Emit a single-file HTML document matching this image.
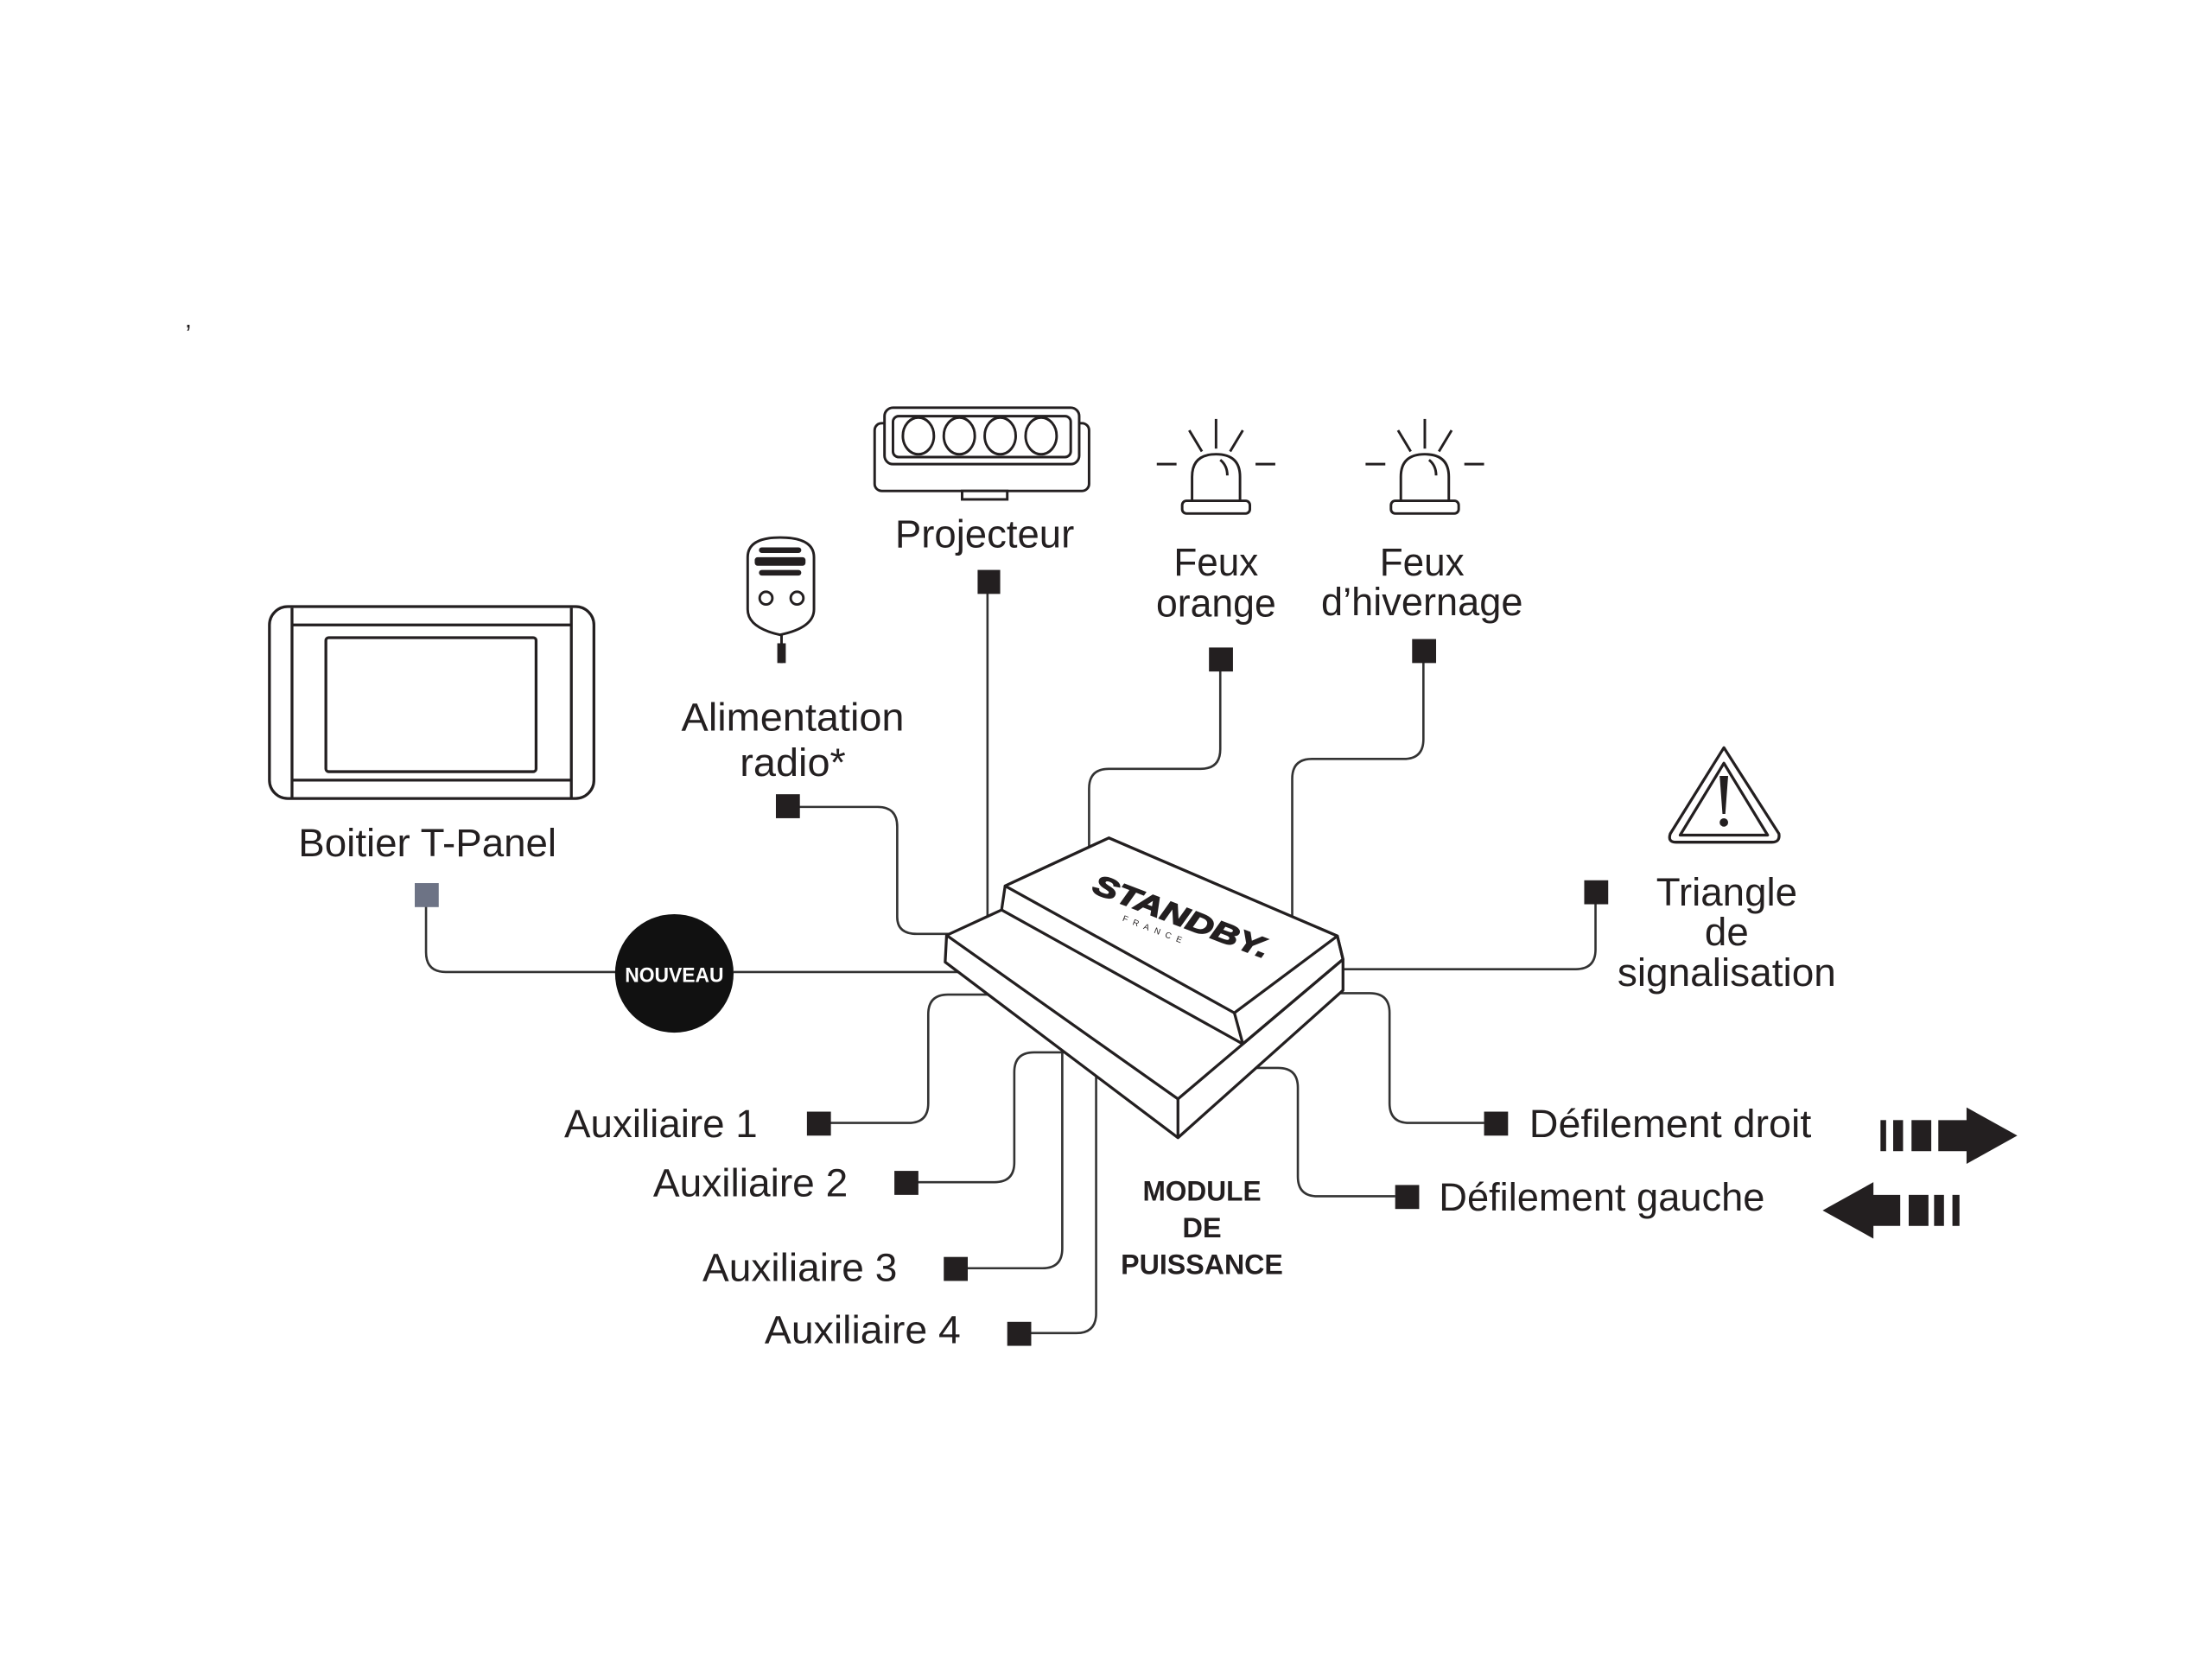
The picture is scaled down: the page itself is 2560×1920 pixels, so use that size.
<!DOCTYPE html>
<html><head><meta charset="utf-8"><style>
html,body{margin:0;padding:0;background:#fff;}
svg{display:block;}
text{font-family:"Liberation Sans",sans-serif;fill:#231f20;}
</style></head><body>
<svg width="2560" height="1920" viewBox="0 0 1568 1176" xmlns="http://www.w3.org/2000/svg">
<rect width="1568" height="1176" fill="#fff"/>
<text x="131" y="232" font-size="18">,</text>

<!-- connectors -->
<g fill="none" stroke="#333" stroke-width="1.6">
<path d="M700,420 V660"/>
<path d="M566,572 H622 Q636,572 636,586 V650 Q636,662 650,662 H690"/>
<path d="M865,475 V531 Q865,545 851,545 H786 Q772,545 772,559 V610"/>
<path d="M1009,469 V524 Q1009,538 995,538 H930 Q916,538 916,552 V650"/>
<path d="M302,642 V675 Q302,689 316,689 H437"/>
<path d="M520,689 H680"/>
<path d="M1131,640 V673 Q1131,687 1117,687 H945"/>
<path d="M588,796 H644 Q658,796 658,782 V719 Q658,705 672,705 H705"/>
<path d="M650,838 H705 Q719,838 719,824 V760 Q719,746 733,746 H760"/>
<path d="M685,899 H739 Q753,899 753,885 V740"/>
<path d="M730,945 H763 Q777,945 777,931 V745"/>
<path d="M1052,796 H999 Q985,796 985,782 V718 Q985,704 971,704 H945"/>
<path d="M989,848 H934 Q920,848 920,834 V771 Q920,757 906,757 H890"/>
</g>

<!-- module -->
<g fill="#fff" stroke="#231f20" stroke-width="2" stroke-linejoin="round">
<polygon points="671,663 710,645 712.5,628 786,594 948,663.5 952,680 952,702 835,806.5 670,682"/>
<polyline fill="none" points="671,663 835,779 952,680"/>
<line x1="835" y1="779" x2="835" y2="806.5"/>
<polygon points="712.5,628 786,594 948,663.5 875,718"/>
<polyline fill="none" points="710,645 881,740 952,680 948,663.5"/>
<line x1="875" y1="718" x2="881" y2="740"/>
</g>
<g transform="translate(835,656) rotate(21)">
<text x="0" y="0" font-size="20" font-weight="bold" font-style="italic" text-anchor="middle" stroke="#231f20" stroke-width="0.9" textLength="132" lengthAdjust="spacingAndGlyphs">STANDBY.</text>
<text x="-14" y="11" font-size="6" text-anchor="middle" letter-spacing="4">FRANCE</text>
</g>

<!-- squares -->
<g fill="#231f20">
<rect x="693" y="404" width="16" height="17"/>
<rect x="550" y="563" width="17" height="17"/>
<rect x="857" y="459" width="17" height="17"/>
<rect x="1001" y="453" width="17" height="17"/>
<rect x="1123" y="624" width="17" height="17"/>
<rect x="572" y="788" width="17" height="17"/>
<rect x="634" y="830" width="17" height="17"/>
<rect x="669" y="891" width="17" height="17"/>
<rect x="714" y="937" width="17" height="17"/>
<rect x="1052" y="788" width="17" height="17"/>
<rect x="989" y="840" width="17" height="17"/>
</g>
<rect x="294" y="626" width="17" height="17" fill="#6d7385"/>

<!-- NOUVEAU -->
<circle cx="478" cy="690" r="42" fill="#111"/>
<text x="478" y="696" font-size="15" font-weight="bold" text-anchor="middle" style="fill:#fff" textLength="70" lengthAdjust="spacingAndGlyphs">NOUVEAU</text>

<!-- T-Panel -->
<g fill="none" stroke="#231f20" stroke-width="2">
<rect x="191" y="430" width="230" height="136" rx="13"/>
<line x1="207" y1="431" x2="207" y2="565"/>
<line x1="405" y1="431" x2="405" y2="565"/>
<line x1="207" y1="443" x2="405" y2="443"/>
<line x1="207" y1="553" x2="405" y2="553"/>
<rect x="231" y="452" width="149" height="95" rx="2"/>
</g>

<!-- Projecteur -->
<g fill="#fff" stroke="#231f20" stroke-width="1.8">
<rect x="620" y="300" width="152" height="48" rx="5"/>
<rect x="682" y="348" width="32" height="6"/>
<rect x="627" y="289" width="138" height="40" rx="6"/>
<rect x="633" y="295" width="126" height="29" rx="4"/>
<ellipse cx="651" cy="309" rx="11" ry="13"/>
<ellipse cx="680" cy="309" rx="11" ry="13"/>
<ellipse cx="709" cy="309" rx="11" ry="13"/>
<ellipse cx="738" cy="309" rx="11" ry="13"/>
</g>

<!-- beacons -->
<g fill="none" stroke="#231f20" stroke-width="1.8">
<g transform="translate(862,0)">
<line x1="0" y1="297" x2="0" y2="318"/>
<line x1="-19" y1="305" x2="-10" y2="320"/>
<line x1="19" y1="305" x2="10" y2="320"/>
<line x1="-42" y1="329" x2="-28" y2="329"/>
<line x1="28" y1="329" x2="42" y2="329"/>
<path d="M-17,355 V338 Q-17,322 0,322 Q17,322 17,338 V355"/>
<path d="M3,326 Q8,330 8,337"/>
<rect x="-24" y="355" width="48" height="9" rx="3"/>
</g>
<g transform="translate(1010,0)">
<line x1="0" y1="297" x2="0" y2="318"/>
<line x1="-19" y1="305" x2="-10" y2="320"/>
<line x1="19" y1="305" x2="10" y2="320"/>
<line x1="-42" y1="329" x2="-28" y2="329"/>
<line x1="28" y1="329" x2="42" y2="329"/>
<path d="M-17,355 V338 Q-17,322 0,322 Q17,322 17,338 V355"/>
<path d="M3,326 Q8,330 8,337"/>
<rect x="-24" y="355" width="48" height="9" rx="3"/>
</g>
</g>

<!-- radio mic -->
<g fill="none" stroke="#231f20" stroke-width="1.8">
<path d="M530,395 Q530,381 553,381 Q577,381 577,395 V432 Q577,445 553,450 Q530,445 530,432 Z"/>
<line x1="554" y1="450" x2="554" y2="470"/>
<circle cx="543" cy="424" r="4.5"/>
<circle cx="565" cy="424" r="4.5"/>
</g>
<g fill="#231f20">
<rect x="538" y="388" width="30" height="4" rx="2"/>
<rect x="535" y="395" width="36" height="6" rx="2"/>
<rect x="538" y="404" width="30" height="4" rx="2"/>
<rect x="551" y="456" width="6" height="14"/>
</g>

<!-- warning triangle -->
<g fill="none" stroke="#231f20" stroke-width="2" stroke-linejoin="round">
<path d="M1222,530 L1261,591 Q1262,597 1256,597 H1188 Q1182,597 1184,591 Z"/>
<path d="M1222,541 L1253,592 H1191 Z"/>
</g>
<path d="M1219,550 H1225 L1223,577 H1221 Z" fill="#231f20"/>
<circle cx="1222" cy="583" r="3" fill="#231f20"/>

<!-- arrows -->
<g fill="#231f20">
<rect x="1333" y="794" width="4" height="22"/>
<rect x="1342" y="794" width="7" height="22"/>
<rect x="1355" y="794" width="14" height="22"/>
<polygon points="1374,794 1394,794 1394,785 1430,805 1394,825 1394,816 1374,816"/>
<polygon points="1292,858 1328,838 1328,847 1347,847 1347,869 1328,869 1328,878"/>
<rect x="1353" y="847" width="14" height="22"/>
<rect x="1371" y="847" width="7" height="22"/>
<rect x="1384" y="847" width="5" height="22"/>
</g>

<!-- labels -->
<g font-size="28" text-anchor="middle">
<text x="698" y="388" textLength="127" lengthAdjust="spacingAndGlyphs">Projecteur</text>
<text x="862" y="408" textLength="60" lengthAdjust="spacingAndGlyphs">Feux</text>
<text x="862" y="437" textLength="85" lengthAdjust="spacingAndGlyphs">orange</text>
<text x="1008" y="408" textLength="60" lengthAdjust="spacingAndGlyphs">Feux</text>
<text x="1008" y="436" textLength="143" lengthAdjust="spacingAndGlyphs">d’hivernage</text>
<text x="562" y="518" textLength="158" lengthAdjust="spacingAndGlyphs">Alimentation</text>
<text x="562" y="550" textLength="75" lengthAdjust="spacingAndGlyphs">radio*</text>
<text x="303" y="607" textLength="183" lengthAdjust="spacingAndGlyphs">Boitier T-Panel</text>
<text x="1224" y="642" textLength="100" lengthAdjust="spacingAndGlyphs">Triangle</text>
<text x="1224" y="670">de</text>
<text x="1224" y="699" textLength="155" lengthAdjust="spacingAndGlyphs">signalisation</text>
</g>
<g font-size="28">
<text x="400" y="806" textLength="137" lengthAdjust="spacingAndGlyphs">Auxiliaire 1</text>
<text x="463" y="848" textLength="138" lengthAdjust="spacingAndGlyphs">Auxiliaire 2</text>
<text x="498" y="908" textLength="138" lengthAdjust="spacingAndGlyphs">Auxiliaire 3</text>
<text x="542" y="952" textLength="139" lengthAdjust="spacingAndGlyphs">Auxiliaire 4</text>
<text x="1084" y="806" textLength="200" lengthAdjust="spacingAndGlyphs">Défilement droit</text>
<text x="1020" y="858" textLength="231" lengthAdjust="spacingAndGlyphs">Défilement gauche</text>
</g>
<g font-size="20" font-weight="bold" text-anchor="middle">
<text x="852" y="851" textLength="84" lengthAdjust="spacingAndGlyphs">MODULE</text>
<text x="852" y="877">DE</text>
<text x="852" y="903" textLength="115" lengthAdjust="spacingAndGlyphs">PUISSANCE</text>
</g>
</svg>
</body></html>
